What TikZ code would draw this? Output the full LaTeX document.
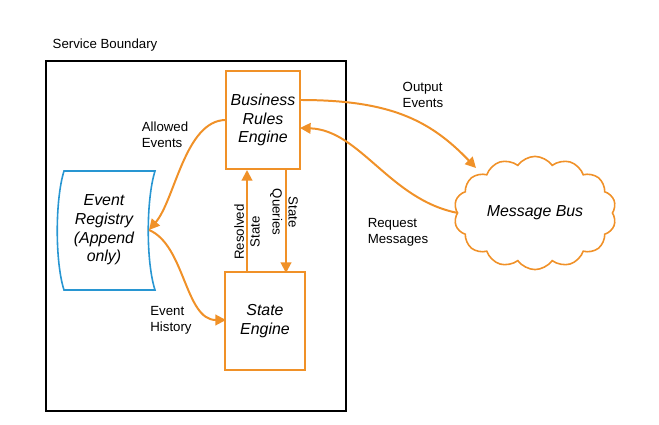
\documentclass[tikz,border=0pt]{standalone}
\usepackage{fontspec}
\setmainfont{Liberation Sans}
\usetikzlibrary{arrows.meta, positioning, shapes.geometric, shapes.symbols}
\definecolor{flow}{RGB}{240,145,40}
\definecolor{store}{RGB}{40,150,210}
\tikzset{
    engine/.style={draw=flow, line width=1.5pt, font=\large\itshape, align=center},
    flowline/.style={draw=flow, line width=1.5pt, -{Triangle[length=8pt, width=8pt]}},
    caption/.style={font=\normalsize, align=left},
}

\begin{document}
\begin{tikzpicture}[x=0.0265cm, y=-0.0265cm]
    \useasboundingbox (0,0) rectangle (659,425);

    \node[caption, anchor=west] (title) at (48,45) {Service Boundary};
    \draw[line width=1.2pt] (46,61) rectangle (346,411);

    \node[engine, minimum height=2.6cm, minimum width=1.95cm] (rules) at (263,120) {Business\\Rules\\Engine};
    \node[engine, minimum height=2.6cm, minimum width=2.1cm] (state) at (265,321) {State\\Engine};
    % event store drawn as a bent drum
    \draw[store, line width=1.2pt] (64,171) -- (155,171)
        .. controls (146,200) and (146,262) .. (155,290) -- (64,290)
        .. controls (55,262) and (55,200) .. cycle;
    \node[font=\large\itshape, align=center] (registry) at (104,230) {Event\\Registry\\(Append\\only)};
    \node[cloud, draw=flow, line width=1.2pt, cloud puffs=14, cloud puff arc=110, aspect=1.6,
          minimum width=4.3cm, minimum height=3cm, font=\large\itshape] (bus) at (535,213) {Message Bus};

    % connectors
    \coordinate (rulesL) at (226,120);
    \coordinate (regR) at (149,230);
    \coordinate (stateL) at (226,320);
    \draw[flowline] (rulesL) .. controls (185,120) and (175,200) .. (regR);
    \draw[flowline] (regR) .. controls (185,245) and (185,320) .. (stateL);
    \draw[flowline] (247,273) -- (247,170);
    \draw[flowline] (286,170) -- (286,273);
    \draw[flowline] (300,100) .. controls (390,100) and (430,120) .. (476,168);
    \draw[flowline] (458,213) .. controls (390,200) and (360,130) .. (300,128);

    % labels
    \node[caption] (allowed) at (165,135) {Allowed\\Events};
    \node[caption] (history) at (171,320) {Event\\History};
    \node[caption, rotate=90, align=center] (resolved) at (247,232) {Resolved\\State};
    \node[caption, rotate=-90, align=center] (queries) at (284,212) {State\\Queries};
    \node[caption] (output) at (423,95) {Output\\Events};
    \node[caption] (request) at (398,232) {Request\\Messages};
\end{tikzpicture}
\end{document}
